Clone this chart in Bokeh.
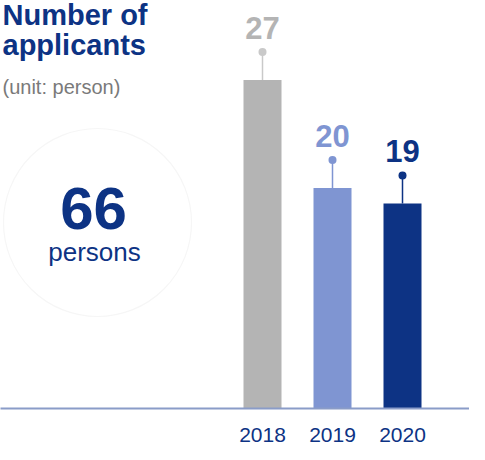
from bokeh.plotting import figure
from bokeh.models import ColumnDataSource, Range1d, FixedTicker, Label
from bokeh.core.properties import value
from bokeh.embed import file_html
from bokeh.resources import INLINE

# ---- data ----
years = [2018, 2019, 2020]
applicants = [27, 20, 19]
bar_colors = ["#b4b4b4", "#7f95d2", "#0d3384"]
stem_colors = ["#c9c9c9", "#7f95d2", "#0d3384"]
label_colors = ["#b4b4b4", "#7f95d2", "#0d3384"]
title_lines = ["Number of", "applicants"]
unit_text = "(unit: person)"
total_unit = "persons"

total = sum(applicants)

# ---- layout ----
W, H = 469, 444
FRAME_H = 408
PX_PER_YEAR = 70.0
K = 15.42           # px per person
Y0 = 5.70           # value at baseline
x_start = years[0] - 262 / PX_PER_YEAR
x_end = x_start + W / PX_PER_YEAR
y_end = Y0 + FRAME_H / K
stem = 28 / K

def fx(px):
    return x_start + px / PX_PER_YEAR

def fy(py):
    return y_end - py / K

FONT = value("Liberation Sans")
NAVY = "#0d3384"

p = figure(width=W, height=H, output_backend="svg", toolbar_location=None,
           x_range=Range1d(x_start, x_end), y_range=Range1d(Y0, y_end),
           y_axis_location=None, min_border_left=0, min_border_right=0,
           min_border_top=0, min_border_bottom=H - FRAME_H)
p.outline_line_color = None
p.grid.visible = False
p.background_fill_color = "white"
p.border_fill_color = "white"

xa = p.xaxis[0]
xa.ticker = FixedTicker(ticks=years)
xa.axis_line_color = "#8a9cc8"
xa.axis_line_width = 2
xa.major_tick_line_color = None
xa.minor_tick_line_color = None
xa.major_label_text_font = "Liberation Sans"
xa.major_label_text_font_size = "21px"
xa.major_label_text_color = NAVY
xa.major_label_standoff = 13

src = ColumnDataSource(dict(
    x=years, top=applicants, tip=[v + stem for v in applicants],
    bar_color=bar_colors, stem_color=stem_colors, label_color=label_colors,
    label=[str(v) for v in applicants]))

# faint circle behind the total
p.scatter(x=[fx(97)], y=[fy(222)], size=188, marker="circle",
          fill_color=None, line_color="#f6f6f6", line_width=1.2, level="underlay")

p.vbar(x="x", top="top", bottom=0, width=38 / PX_PER_YEAR, source=src,
       fill_color="bar_color", line_color=None)
p.segment(x0="x", y0="top", x1="x", y1="tip", source=src,
          line_color="stem_color", line_width=1.5)
p.scatter(x="x", y="tip", size=8, source=src, fill_color="stem_color",
          line_color=None)
p.text(x="x", y="tip", text="label", source=src, text_align="center",
       text_baseline="alphabetic", y_offset=-24, text_font=FONT,
       text_font_style="bold", text_font_size="31px", text_color="label_color")

# title and notes
for i, line in enumerate(title_lines):
    p.add_layout(Label(x=fx(2), y=fy(14 + 30 * i), text=line, text_font="Liberation Sans",
                       text_font_style="bold", text_font_size="29px", text_color=NAVY,
                       text_baseline="alphabetic", text_align="left"))
p.add_layout(Label(x=fx(2), y=fy(86), text=unit_text, text_font="Liberation Sans",
                   text_font_size="20px", text_color="#7a7a7a",
                   text_baseline="alphabetic", text_align="left"))

# total
p.add_layout(Label(x=fx(93), y=fy(208), text=str(total), text_font="Liberation Sans",
                   text_font_style="bold", text_font_size="60px", text_color=NAVY,
                   text_baseline="alphabetic", text_align="center"))
p.add_layout(Label(x=fx(94), y=fy(251), text=total_unit, text_font="Liberation Sans",
                   text_font_size="26px", text_color=NAVY,
                   text_baseline="alphabetic", text_align="center"))

open("out.html", "w").write(file_html(p, INLINE))
